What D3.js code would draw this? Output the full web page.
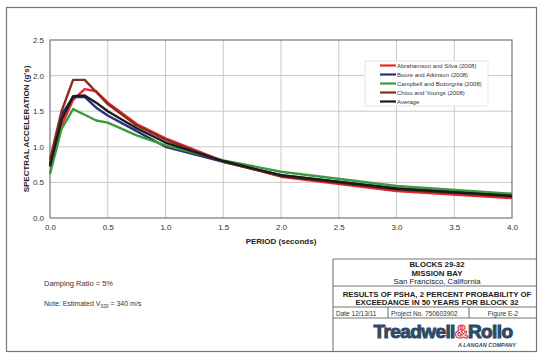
<!DOCTYPE html>
<html><head><meta charset="utf-8">
<script src="https://cdn.jsdelivr.net/npm/d3@7"></script>
<style>body{margin:0;background:#fff}svg{display:block;font-family:"Liberation Sans",Arial,sans-serif}</style>
</head><body><svg id="c" width="543" height="360"></svg>
<script>
const periods = [0, 0.1, 0.2, 0.3, 0.4, 0.5, 0.75, 1.0, 1.5, 2.0, 3.0, 4.0];
const abrahamsonSilva = [0.72, 1.30, 1.66, 1.81, 1.78, 1.62, 1.32, 1.12, 0.80, 0.58, 0.38, 0.28];
const booreAtkinson   = [0.76, 1.45, 1.70, 1.70, 1.55, 1.44, 1.22, 1.00, 0.79, 0.60, 0.42, 0.32];
const campbellBozorgnia = [0.62, 1.25, 1.53, 1.45, 1.37, 1.34, 1.16, 1.02, 0.81, 0.65, 0.45, 0.34];
const chiouYoungs     = [0.82, 1.50, 1.94, 1.94, 1.77, 1.60, 1.30, 1.10, 0.79, 0.59, 0.40, 0.30];
const average         = [0.73, 1.38, 1.71, 1.72, 1.62, 1.50, 1.26, 1.06, 0.80, 0.60, 0.41, 0.31];
const seriesNames = ["Abrahamson and Silva (2008)", "Boore and Atkinson (2008)", "Campbell and Bozorgnia (2008)", "Chiou and Youngs (2008)", "Average"];
const seriesValues = [abrahamsonSilva, booreAtkinson, campbellBozorgnia, chiouYoungs, average];
const seriesColors = ["#e8262b", "#27307f", "#3c9a3a", "#8a2c22", "#1b1b1b"];
const xTicks = [0, 0.5, 1.0, 1.5, 2.0, 2.5, 3.0, 3.5, 4.0];
const yTicks = [0, 0.5, 1.0, 1.5, 2.0, 2.5];

const svg = d3.select("#c");
const L = 50, R = 512, T = 40, B = 218;
const x = d3.scaleLinear().domain([0, 4]).range([L, R]);
const y = d3.scaleLinear().domain([0, 2.5]).range([B, T]);

// outer frame
svg.append("rect").attr("x", 6.5).attr("y", 7.5).attr("width", 530).attr("height", 344)
  .attr("fill", "none").attr("stroke", "#777").attr("stroke-width", 1.2);

// grid
svg.append("g").selectAll("line").data(xTicks.slice(1, -1)).join("line")
  .attr("x1", d => x(d)).attr("x2", d => x(d)).attr("y1", T).attr("y2", B)
  .attr("stroke", "#c8c8c8").attr("stroke-width", 1);
svg.append("g").selectAll("line").data(yTicks.slice(1, -1)).join("line")
  .attr("y1", d => y(d)).attr("y2", d => y(d)).attr("x1", L).attr("x2", R)
  .attr("stroke", "#c8c8c8").attr("stroke-width", 1);

// axes
const xAxis = svg.append("g").attr("transform", `translate(0,${B})`)
  .call(d3.axisBottom(x).tickValues(xTicks).tickFormat(d3.format(".1f")).tickSize(0).tickPadding(6));
const yAxis = svg.append("g").attr("transform", `translate(${L},0)`)
  .call(d3.axisLeft(y).tickValues(yTicks).tickFormat(d3.format(".1f")).tickSize(0).tickPadding(6));
[xAxis, yAxis].forEach(g => {
  g.select(".domain").remove();
  g.selectAll("text").attr("font-size", 8).attr("fill", "#333").attr("font-family", "Liberation Sans, Arial, sans-serif");
});
svg.append("rect").attr("x", L).attr("y", T).attr("width", R - L).attr("height", B - T)
  .attr("fill", "none").attr("stroke", "#777").attr("stroke-width", 1.2);

// lines
const line = d3.line().x((d, i) => x(periods[i])).y(d => y(d));
svg.append("g").selectAll("path").data(seriesValues).join("path")
  .attr("d", d => line(d)).attr("fill", "none")
  .attr("stroke", (d, i) => seriesColors[i]).attr("stroke-width", 2.4)
  .attr("stroke-linejoin", "round");

// legend
const lg = svg.append("g");
lg.append("rect").attr("x", 365).attr("y", 61).attr("width", 123).attr("height", 45)
  .attr("fill", "#fff").attr("stroke", "#e4e4e4");
const li = lg.selectAll("g").data(seriesNames).join("g")
  .attr("transform", (d, i) => `translate(0,${65.5 + i * 9})`);
li.append("line").attr("x1", 380).attr("x2", 396).attr("stroke", (d, i) => seriesColors[i]).attr("stroke-width", 2.2);
li.append("text").attr("x", 397).attr("dy", "0.35em").attr("font-size", 6).attr("fill", "#333").text(d => d);

// axis titles
svg.append("text").attr("x", 281).attr("y", 244).attr("text-anchor", "middle")
  .attr("font-size", 8).attr("font-weight", "bold").attr("fill", "#222").text("PERIOD (seconds)");
svg.append("text").attr("transform", "translate(29,129) rotate(-90)").attr("text-anchor", "middle")
  .attr("font-size", 8).attr("font-weight", "bold").attr("fill", "#222").text("SPECTRAL ACCELERATION (g's)");

// notes
svg.append("text").attr("x", 44).attr("y", 286).attr("font-size", 7.5).attr("fill", "#333").text("Damping Ratio = 5%");
const n = svg.append("text").attr("x", 44).attr("y", 306).attr("font-size", 7).attr("fill", "#333");
n.append("tspan").text("Note: Estimated  V");
n.append("tspan").attr("font-size", 4.5).attr("dy", 1.5).text("S30");
n.append("tspan").attr("dy", -1.5).text(" = 340 m/s");

// title block
const tb = svg.append("g").attr("stroke", "#777").attr("stroke-width", 1.1);
tb.append("line").attr("x1", 333).attr("x2", 333).attr("y1", 259).attr("y2", 351.5);
[259, 286, 307, 318].forEach(v => tb.append("line").attr("x1", 333).attr("x2", 536.5).attr("y1", v).attr("y2", v));
tb.append("line").attr("x1", 388).attr("x2", 388).attr("y1", 307).attr("y2", 318);
tb.append("line").attr("x1", 469).attr("x2", 469).attr("y1", 307).attr("y2", 318);

const cx = 437;
const t1 = [["BLOCKS 29-32", 266.5, "bold"], ["MISSION BAY", 275.5, "bold"], ["San Francisco, California", 284, "normal"],
  ["RESULTS OF PSHA, 2 PERCENT PROBABILITY OF", 296.5, "bold"], ["EXCEEDANCE IN 50 YEARS FOR BLOCK 32", 305, "bold"]];
svg.append("g").selectAll("text").data(t1).join("text")
  .attr("x", cx).attr("y", d => d[1]).attr("text-anchor", "middle").attr("font-size", 7.8)
  .attr("font-weight", d => d[2]).attr("fill", "#222").text(d => d[0]);
svg.append("text").attr("x", 336).attr("y", 315.5).attr("font-size", 6.5).attr("fill", "#333").text("Date  12/13/11");
svg.append("text").attr("x", 391).attr("y", 315.5).attr("font-size", 6.5).attr("fill", "#333").text("Project No. 750603902");
svg.append("text").attr("x", 503).attr("y", 315.5).attr("text-anchor", "middle").attr("font-size", 6.5).attr("fill", "#333").text("Figure E-2");

// logo
const logo = svg.append("text").attr("x", 443).attr("y", 338).attr("text-anchor", "middle")
  .attr("font-size", 19).attr("font-weight", "bold").attr("letter-spacing", -0.6)
  .attr("fill", "#2f4a66").attr("stroke", "#2f4a66").attr("stroke-width", 1);
logo.append("tspan").text("Treadwell");
logo.append("tspan").attr("fill", "#fff").attr("stroke", "#d8262b").attr("stroke-width", 1).text("&");
logo.append("tspan").text("Rollo");
svg.append("text").attr("x", 516).attr("y", 346.5).attr("text-anchor", "end").attr("font-size", 5.5)
  .attr("font-weight", "bold").attr("font-style", "italic").attr("fill", "#2f4a66").text("A LANGAN COMPANY");
</script></body></html>
